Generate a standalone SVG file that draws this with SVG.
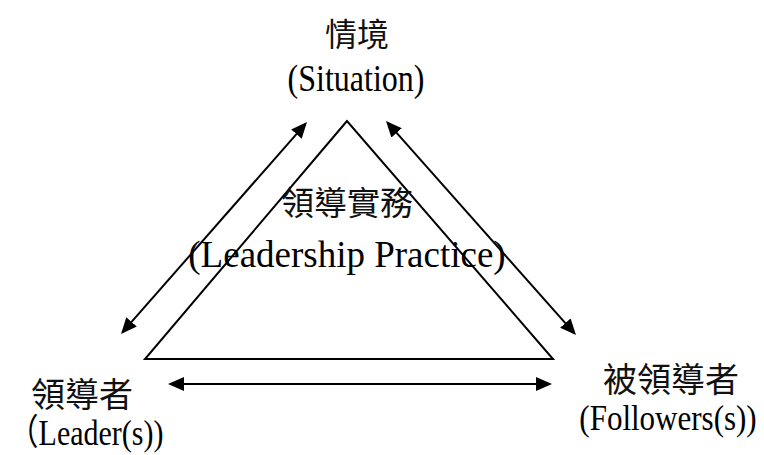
<svg xmlns="http://www.w3.org/2000/svg" width="764" height="455" viewBox="0 0 764 455">
  <style>
    .lbl { font-family: "Liberation Serif", "Noto Sans CJK TC", serif; fill: #000; text-anchor: middle; }
    .cjk { font-family: "Noto Sans CJK TC", "Liberation Serif", sans-serif; fill: #111; text-anchor: middle; }
    .edge { stroke: #000; stroke-width: 2; fill: none; }
  </style>
  <defs>
    <marker id="head" viewBox="0 0 16 14" markerWidth="16" markerHeight="14" refX="13" refY="7" markerUnits="userSpaceOnUse" orient="auto-start-reverse">
      <path d="M0,0 L16,7 L0,14 z" fill="#000"/>
    </marker>
  </defs>
  <rect width="764" height="455" fill="#fff"/>

  <!-- central triangle: leadership practice -->
  <g id="practice">
    <polygon points="347,121 145,359 553,359" fill="none" stroke="#000" stroke-width="2" stroke-linejoin="miter"/>
    <text class="cjk" x="347" y="215" font-size="33">領導實務</text>
    <text class="lbl" x="347" y="267" font-size="37">(Leadership Practice)</text>
  </g>

  <!-- Latin labels are set slightly tall-and-narrow via a vertical stretch -->
  <g id="situation">
    <text class="cjk" x="357" y="46" font-size="32">情境</text>
    <text class="lbl" transform="translate(356,91) scale(1,1.16)" font-size="32">(Situation)</text>
  </g>

  <g id="leader">
    <text class="cjk" x="82" y="407" font-size="34">領導者</text>
    <text class="lbl" transform="translate(86,445) scale(1,1.2)" font-size="30">（Leader(s))</text>
  </g>

  <g id="followers">
    <text class="cjk" x="671" y="392" font-size="34">被領導者</text>
    <text class="lbl" transform="translate(668,430) scale(1,1.16)" font-size="31">(Followers(s))</text>
  </g>

  <!-- two-way influences between the three elements -->
  <g id="connectors">
    <line class="edge" x1="123" y1="331.7" x2="305" y2="124.3" marker-start="url(#head)" marker-end="url(#head)"/>
    <line class="edge" x1="388" y1="123.2" x2="574" y2="332.8" marker-start="url(#head)" marker-end="url(#head)"/>
    <line class="edge" x1="171" y1="384" x2="549" y2="384" marker-start="url(#head)" marker-end="url(#head)"/>
  </g>
</svg>
